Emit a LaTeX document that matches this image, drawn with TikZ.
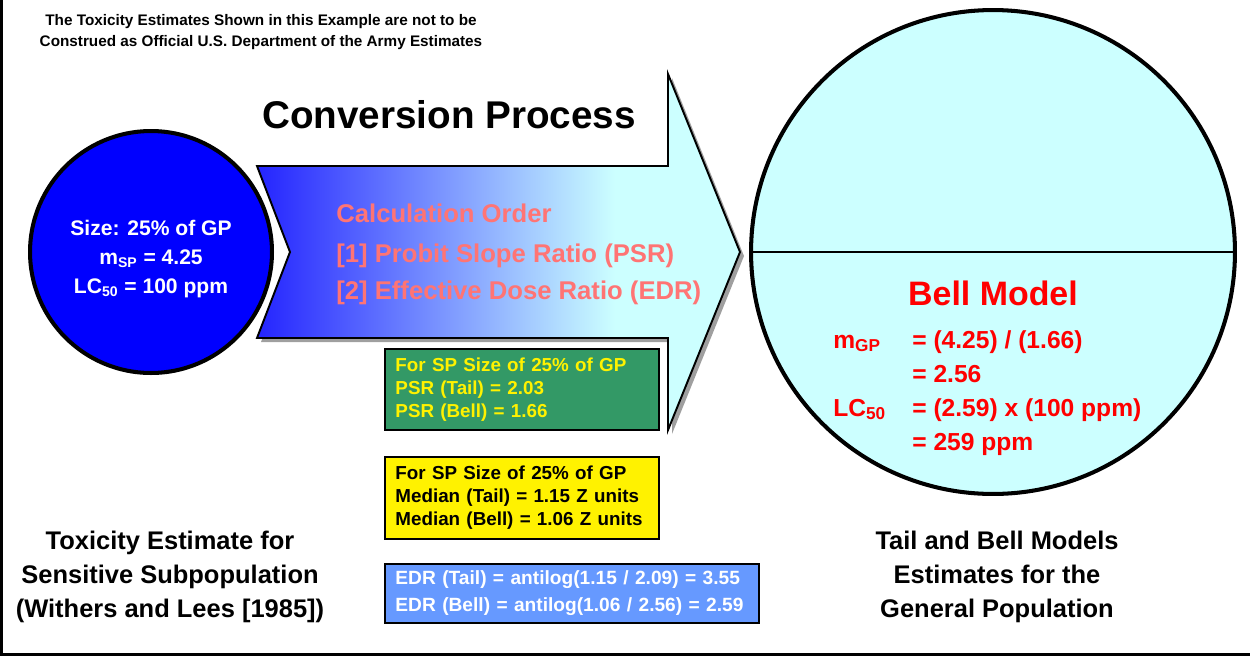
\documentclass[tikz,border=0pt]{standalone}
\usepackage{fontspec}
\setmainfont{Liberation Sans}
\usepackage{tikz}
\usepackage{xcolor}

\definecolor{spblue}{RGB}{0,0,255}
\definecolor{paleaqua}{RGB}{204,255,255}
\definecolor{shadeblue}{RGB}{36,36,255}
\definecolor{salmonred}{RGB}{255,116,116}
\definecolor{psrgreen}{RGB}{51,153,102}
\definecolor{edrblue}{RGB}{102,153,255}

\newcommand{\fsz}[2]{\fontsize{#1}{#2}\selectfont\bfseries}

\begin{document}
\begin{tikzpicture}[x=0.02cm,y=-0.02cm,
		every node/.style={inner sep=0pt},
		databox/.style={draw=black, line width=1.1pt, anchor=north west, inner xsep=0.21cm, inner ysep=0pt, align=left, font=\fsz{10.7}{13}},
		calctext/.style={anchor=base west, text=salmonred, font=\fsz{14.6}{17}},
		belltext/.style={anchor=base west, text=red, font=\fsz{14}{17}},
		caption/.style={align=center, font=\fsz{14.5}{19.3}}]
			\useasboundingbox (0,0) rectangle (1250,656);
			\draw[line width=1.7pt] (1.5,0) -- (1.5,654.5) -- (1250,654.5);
			\node[align=center, font=\fsz{8.7}{11.6}] (note) at (261,32) {The Toxicity Estimates Shown in this Example are not to be\\Construed as Official U.S. Department of the Army Estimates};
			\def\arrowpath{(257,166) -- (668,166) -- (668,74) -- (740,252) -- (668,430) -- (668,338) -- (257,338) -- (290,252) -- cycle}
			\fill[gray!75, shift={(4,4)}] \arrowpath;
			\fill[paleaqua] \arrowpath;
			\begin{scope}
				\clip \arrowpath;
				\shade[left color=shadeblue, right color=paleaqua] (257,160) rectangle (615,345);
			\end{scope}
			\draw[line width=1.1pt] \arrowpath;
			\node[anchor=base, font=\fsz{22}{26}] (title) at (449,128) {Conversion Process};
			\node[calctext] (order) at (336,222) {Calculation Order};
			\node[calctext] (psr) at (336,262) {[1] Probit Slope Ratio (PSR)};
			\node[calctext] (edr) at (336,299) {[2] Effective Dose Ratio (EDR)};
			\node[circle, draw=black, fill=spblue, line width=2.3pt, minimum size=4.84cm] (sp) at (151,252) {};
			\node[align=center, text=white, font=\fsz{12}{16.4}] (sptext) at (151,259) {Size: 25\% of GP\\m\textsubscript{SP} = 4.25\\LC\textsubscript{50} = 100 ppm};
			\node[circle, draw=black, fill=paleaqua, line width=2.3pt, minimum size=9.68cm] (gp) at (993,252) {};
			\draw[line width=1.1pt] (gp.west) -- (gp.east);
			\node[anchor=base, text=red, font=\fsz{19.3}{23}] (bell) at (993,305) {Bell Model};
			\node[belltext] (mgp) at (833,348) {m\textsubscript{GP}};
			\node[belltext] (mgpa) at (912,348) {= (4.25) / (1.66)};
			\node[belltext] (mgpb) at (912,382) {= 2.56};
			\node[belltext] (lc) at (833,416) {LC\textsubscript{50}};
			\node[belltext] (lca) at (912,416) {= (2.59) x (100 ppm)};
			\node[belltext] (lcb) at (912,450) {= 259 ppm};
			\node[databox, fill=psrgreen, text=yellow, text width=5.06cm, minimum height=1.62cm] (greenbox) at (384,348) {For SP Size of 25\% of GP\\PSR (Tail) = 2.03\\PSR (Bell) = 1.66};
			\node[databox, fill=yellow, text=black, text width=5.06cm, minimum height=1.64cm] (yellowbox) at (384,456) {For SP Size of 25\% of GP\\Median (Tail) = 1.15 Z units\\Median (Bell) = 1.06 Z units};
			\node[databox, fill=edrblue, text=white, text width=7.06cm, minimum height=1.18cm, font=\fsz{10.9}{15.3}] (bluebox) at (384,563) {EDR (Tail) = antilog(1.15 / 2.09) = 3.55\\EDR (Bell) = antilog(1.06 / 2.56) = 2.59};
			\node[caption] (spcap) at (170,576.5) {Toxicity Estimate for\\Sensitive Subpopulation\\(Withers and Lees [1985])};
			\node[caption] (gpcap) at (997,576.5) {Tail and Bell Models\\Estimates for the\\General Population};
		\end{tikzpicture}
\end{document}
